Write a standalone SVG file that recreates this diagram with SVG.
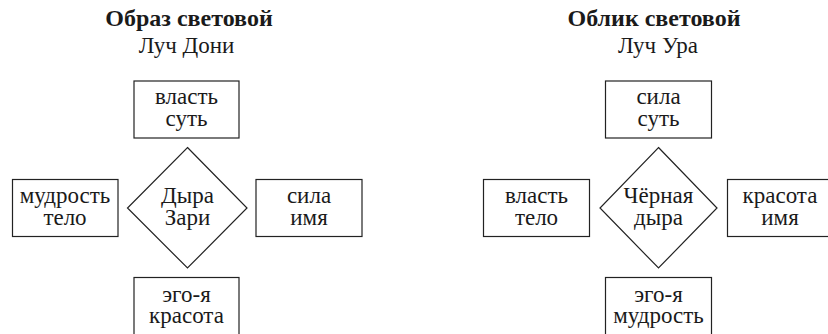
<svg xmlns="http://www.w3.org/2000/svg" width="828" height="334" viewBox="0 0 828 334">
<style>
.box{fill:#fff;stroke:#222;stroke-width:1.2}
.t{font-family:'Liberation Serif','Tinos','DejaVu Serif',serif;font-size:23px;fill:#1a1a1a;text-anchor:middle}
.h{font-weight:bold;font-size:24px}
</style>
<rect width="828" height="334" fill="#fff"/>
<g id="titles">
<text class="t h" x="189" y="26">Образ световой</text>
<text class="t" x="186.5" y="53">Луч Дони</text>
<text class="t h" x="654" y="26">Облик световой</text>
<text class="t" x="658" y="53">Луч Ура</text>
</g>
<g id="connectors"></g>
<g id="left-diagram">
<g id="l-top"><rect class="box" x="134" y="81" width="105" height="57"/><text class="t" x="186.5" y="103.5">власть</text><text class="t" x="186.5" y="125.5">суть</text></g>
<g id="l-left"><rect class="box" x="12.5" y="179.5" width="105.5" height="57"/><text class="t" x="65" y="202.5">мудрость</text><text class="t" x="65" y="224.5">тело</text></g>
<g id="l-right"><rect class="box" x="256" y="179.5" width="106" height="57"/><text class="t" x="309" y="202.5">сила</text><text class="t" x="309" y="224.5">имя</text></g>
<g id="l-bottom"><rect class="box" x="134" y="277.5" width="105" height="60"/><text class="t" x="186.5" y="301.5">эго-я</text><text class="t" x="186.5" y="323">красота</text></g>
<g id="l-center"><polygon class="box" points="187.5,147.5 247,208 187.5,268 127.5,208"/><text class="t" x="187.5" y="203">Дыра</text><text class="t" x="187.5" y="225">Зари</text></g>
</g>
<g id="right-diagram">
<g id="r-top"><rect class="box" x="605.5" y="81" width="106" height="57"/><text class="t" x="658.5" y="103.5">сила</text><text class="t" x="658.5" y="125.5">суть</text></g>
<g id="r-left"><rect class="box" x="483.5" y="179.5" width="106" height="57"/><text class="t" x="536.5" y="202.5">власть</text><text class="t" x="536.5" y="224.5">тело</text></g>
<g id="r-right"><rect class="box" x="727.5" y="179.5" width="106" height="57"/><text class="t" x="780" y="202.5">красота</text><text class="t" x="780" y="224.5">имя</text></g>
<g id="r-bottom"><rect class="box" x="605.5" y="277.5" width="106" height="60"/><text class="t" x="658.5" y="301.5">эго-я</text><text class="t" x="658.5" y="323">мудрость</text></g>
<g id="r-center"><polygon class="box" points="658.5,147.5 717,208 658.5,268 600,208"/><text class="t" x="658.5" y="203">Чёрная</text><text class="t" x="658.5" y="225">дыра</text></g>
</g>
</svg>
